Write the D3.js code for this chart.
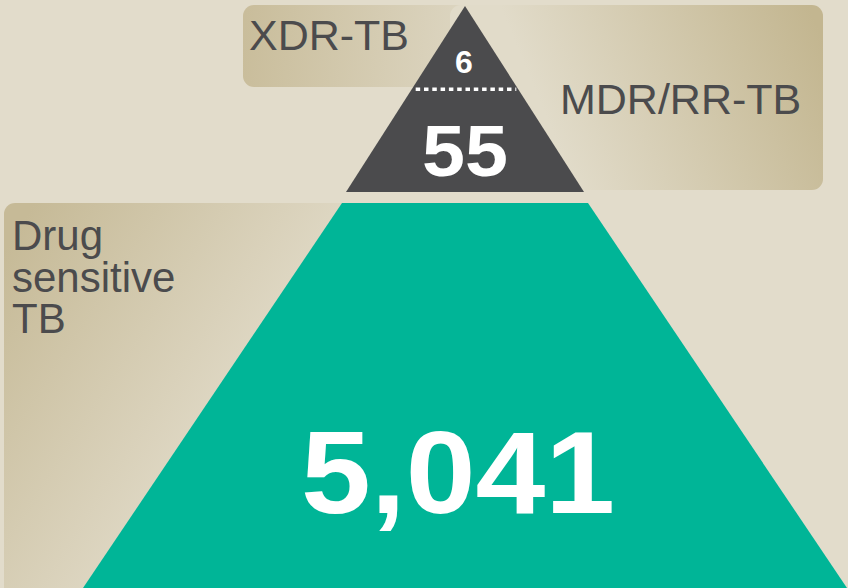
<!DOCTYPE html>
<html>
<head>
<meta charset="utf-8">
<script src="https://cdn.jsdelivr.net/npm/d3@7"></script>
<style>
  html, body { margin: 0; padding: 0; background: #e2dccb; }
  svg { display: block; }
  text { font-family: "Liberation Sans", Arial, Helvetica, sans-serif; }
</style>
</head>
<body>
<script>
// ---- data ----
const categories = ["XDR-TB", "MDR/RR-TB", "Drug sensitive TB"];
const labelLines = [["XDR-TB"], ["MDR/RR-TB"], ["Drug", "sensitive", "TB"]];
const values = [6, 55, 5041];
const valueLabels = values.map(d3.format(","));

// ---- layout ----
const W = 848, H = 588;
const cx = 465;
const colors = { bg: "#e2dccb", dark: "#4b4b4d", green: "#00b597", text: "#4b4b4d", white: "#ffffff" };

const svg = d3.select("body").append("svg").attr("width", W).attr("height", H);
svg.append("rect").attr("width", W).attr("height", H).attr("fill", colors.bg);

// vertical tier scale (fractions of the pyramid)
const yTop = d3.scaleLinear().domain([0, 1]).range([6, 192]);      // dark triangle
const yBot = d3.scaleLinear().domain([0, 1]).range([203, 588]);    // green trapezoid
const hwTop = d3.scaleLinear().domain([6, 192]).range([0, 119]);
const hwBot = d3.scaleLinear().domain([203, 588]).range([123, 382]);

const defs = svg.append("defs");
function grad(id, x1, y1, x2, y2, stops) {
  const g = defs.append("linearGradient").attr("id", id)
    .attr("gradientUnits", "userSpaceOnUse")
    .attr("x1", x1).attr("y1", y1).attr("x2", x2).attr("y2", y2);
  stops.forEach(s => g.append("stop").attr("offset", s[0]).attr("stop-color", s[1]));
}
grad("gXDR", 243, 40, 470, 60, [[0, "#c9bd9b"], [1, "#ddd6c2"]]);
grad("gMDR", 560, 150, 823, 40, [[0, "#e1dbc9"], [1, "#c3b690"]]);
grad("gDS", 20, 225, 290, 400, [[0, "#c6ba97"], [1, "#e3ddcc"]]);

// label boxes
svg.append("rect").attr("x", 243).attr("y", 5).attr("width", 240).attr("height", 82)
  .attr("rx", 11).attr("fill", "url(#gXDR)");
svg.append("rect").attr("x", 450).attr("y", 5).attr("width", 373).attr("height", 185)
  .attr("rx", 11).attr("fill", "url(#gMDR)");
svg.append("rect").attr("x", 4).attr("y", 203).attr("width", 380).attr("height", 395)
  .attr("rx", 11).attr("fill", "url(#gDS)");

// dark triangle (MDR incl. XDR)
const t0 = yTop(0), t1 = yTop(1);
svg.append("path")
  .attr("d", d3.line()([[cx - hwTop(t0), t0], [cx + hwTop(t0), t0], [cx + hwTop(t1), t1], [cx - hwTop(t1), t1]]) + "Z")
  .attr("fill", colors.dark);

// dotted XDR divider
const yDiv = yTop(0.448);
svg.append("line")
  .attr("x1", cx - hwTop(yDiv) + 4).attr("x2", cx + hwTop(yDiv) - 2)
  .attr("y1", yDiv).attr("y2", yDiv)
  .attr("stroke", colors.white).attr("stroke-width", 3.5)
  .attr("stroke-dasharray", "4.5,3.8");

// green trapezoid
const b0 = yBot(0), b1 = yBot(1);
svg.append("path")
  .attr("d", d3.line()([[cx - hwBot(b0), b0], [cx + hwBot(b0), b0], [cx + hwBot(b1), b1], [cx - hwBot(b1), b1]]) + "Z")
  .attr("fill", colors.green);

// value labels
svg.append("text").attr("x", cx - 1).attr("y", 73).attr("text-anchor", "middle")
  .attr("font-size", 32).attr("font-weight", "bold").attr("fill", colors.white).text(valueLabels[0]);
svg.append("text").attr("x", cx).attr("y", 176).attr("text-anchor", "middle")
  .attr("font-size", 73).attr("font-weight", "bold").attr("fill", colors.white)
  .attr("textLength", 86).attr("lengthAdjust", "spacingAndGlyphs").text(valueLabels[1]);
svg.append("text").attr("x", 458).attr("y", 513).attr("text-anchor", "middle")
  .attr("font-size", 116).attr("font-weight", "bold").attr("fill", colors.white)
  .attr("textLength", 314).attr("lengthAdjust", "spacingAndGlyphs").text(valueLabels[2]);

// category labels
svg.append("text").attr("x", 249).attr("y", 50).attr("font-size", 43).attr("fill", colors.text)
  .text(labelLines[0][0]);
svg.append("text").attr("x", 560).attr("y", 114).attr("font-size", 43).attr("fill", colors.text)
  .text(labelLines[1][0]);
const ds = svg.append("text").attr("x", 12).attr("y", 250).attr("font-size", 42).attr("fill", colors.text);
labelLines[2].forEach((l, i) => ds.append("tspan").attr("x", 12).attr("y", 250 + i * 41.5).text(l));
</script>
</body>
</html>
